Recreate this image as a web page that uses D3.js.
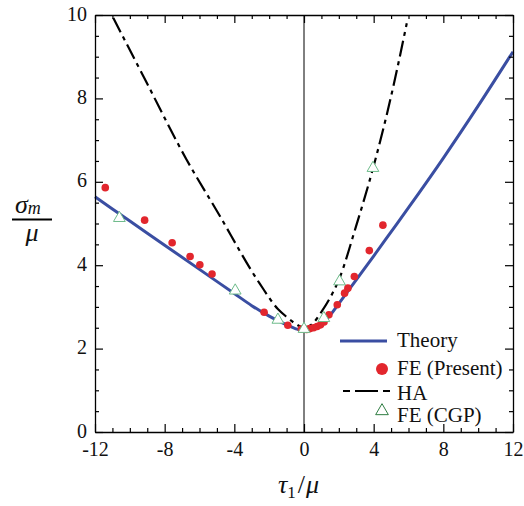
<!DOCTYPE html>
<html>
<head>
<meta charset="utf-8">
<script src="https://cdn.jsdelivr.net/npm/d3@7"></script>
<style>
  body { margin: 0; background: #fff; }
  svg { display: block; }
  svg text { font-family: "Liberation Serif", "DejaVu Serif", "Noto Serif", "Times New Roman", Times, serif; fill: #111; }
</style>
</head>
<body>
<div id="chart"></div>
<script>
// theory curve
const theoryX = [-12, -10, -8, -6, -4, -3, -2.3, -2, -1.5, -1, -0.5, 0, 0.5, 1, 1.5, 2, 3, 4, 5, 6, 8, 10, 12];
const theoryY = [5.64, 5.06, 4.48, 3.9, 3.32, 3.03, 2.85, 2.78, 2.67, 2.57, 2.48, 2.43, 2.47, 2.6, 2.8, 3.08, 3.65, 4.22, 4.8, 5.38, 6.57, 7.82, 9.12];

// HA curve
const haX = [-10.95, -9, -6.74, -5, -2.56, -1.5, -1, -0.5, 0, 0.5, 1, 1.5, 2, 3, 4, 5, 5.9];
const haY = [9.93, 8.35, 6.53, 5.3, 3.57, 2.95, 2.76, 2.6, 2.5, 2.6, 2.88, 3.22, 3.65, 4.95, 6.38, 8.05, 9.8];

// FE (Present)
const feX = [-11.41, -9.15, -7.57, -6.54, -5.98, -5.28, -2.29, -0.93, -0.15, 0.15, 0.35, 0.55, 0.75, 0.95, 1.15, 1.43, 1.91, 2.33, 2.52, 2.89, 3.75, 4.53];
const feY = [5.86, 5.08, 4.54, 4.21, 4.01, 3.79, 2.87, 2.56, 2.47, 2.46, 2.48, 2.5, 2.53, 2.57, 2.64, 2.81, 3.05, 3.33, 3.45, 3.73, 4.35, 4.96];

// FE (CGP)
const cgpX = [-10.6, -3.95, -1.5, 0, 1.14, 2.04, 3.96];
const cgpY = [5.13, 3.39, 2.69, 2.47, 2.73, 3.61, 6.33];

// ticks
const xTicks = [-12, -8, -4, 0, 4, 8, 12];
const xTickLabels = ["-12", "-8", "-4", "0", "4", "8", "12"];
const yTicks = [0, 2, 4, 6, 8, 10];
const yTickLabels = ["0", "2", "4", "6", "8", "10"];
const legendLabels = ["Theory", "FE (Present)", "HA", "FE (CGP)"];

const width = 524, height = 506;
const margin = {top: 15, right: 11, bottom: 74, left: 95};
const innerW = width - margin.left - margin.right;
const innerH = height - margin.top - margin.bottom;

const blue = "#3a4ea2", red = "#e2262d", green = "#6dbb8a", darkGreen = "#2f7d42";

const xScale = d3.scaleLinear().domain([-12, 12]).range([0, innerW]);
const yScale = d3.scaleLinear().domain([0, 10]).range([innerH, 0]);

const xMinor = d3.range(-12, 13, 1).filter(function(d) { return xTicks.indexOf(d) < 0; });
const yMinor = d3.range(0, 10.01, 0.5).filter(function(d) { return yTicks.indexOf(d) < 0; });

const svg = d3.select("#chart").append("svg")
    .attr("width", width)
    .attr("height", height);

const chartArea = svg.append("g")
    .attr("transform", "translate(" + margin.left + "," + margin.top + ")");

// draws one axis; inside ticks, optional labels
function drawAxis(axisFn, scale, values, size, labels, transform, pad) {
    const axis = axisFn(scale)
        .tickValues(values)
        .tickSizeInner(-size)
        .tickSizeOuter(0)
        .tickPadding(pad || 8)
        .tickFormat(function(d) { return labels ? labels[values.indexOf(d)] : ""; });
    const g = chartArea.append("g")
        .attr("class", "axis")
        .attr("transform", transform || null)
        .call(axis)
        .attr("font-family", null)
        .attr("font-size", 20);
    g.selectAll("line").attr("stroke", "#000").attr("stroke-width", 1.2);
    g.select(".domain").attr("stroke", "#000").attr("stroke-width", 1.3);
    g.selectAll("text").attr("fill", "#111");
    return g;
}

// zero line
chartArea.append("line")
    .attr("x1", xScale(0)).attr("x2", xScale(0))
    .attr("y1", 0).attr("y2", innerH)
    .attr("stroke", "#000")
    .attr("stroke-width", 1);

// curves
const line = d3.line()
    .x(function(d) { return xScale(d[0]); })
    .y(function(d) { return yScale(d[1]); })
    .curve(d3.curveMonotoneX);

chartArea.append("path")
    .datum(theoryX.map(function(x, i) { return [x, theoryY[i]]; }))
    .attr("d", line)
    .attr("fill", "none")
    .attr("stroke", blue)
    .attr("stroke-width", 3);

chartArea.append("path")
    .datum(haX.map(function(x, i) { return [x, haY[i]]; }))
    .attr("d", line)
    .attr("fill", "none")
    .attr("stroke", "#000")
    .attr("stroke-width", 2.2)
    .attr("stroke-dasharray", "16,5,4,5");

// FE (Present) dots
chartArea.selectAll(".dot")
    .data(feX.map(function(x, i) { return [x, feY[i]]; }))
    .enter().append("circle")
    .attr("class", "dot")
    .attr("r", 3.8)
    .attr("cx", function(d) { return xScale(d[0]); })
    .attr("cy", function(d) { return yScale(d[1]); })
    .attr("fill", red);

// FE (CGP) triangles
const tri = d3.symbol().type(d3.symbolTriangle).size(60);
chartArea.selectAll(".tri")
    .data(cgpX.map(function(x, i) { return [x, cgpY[i]]; }))
    .enter().append("path")
    .attr("class", "tri")
    .attr("d", tri)
    .attr("transform", function(d) { return "translate(" + xScale(d[0]) + "," + yScale(d[1]) + ")"; })
    .attr("fill", "#fff")
    .attr("stroke", green)
    .attr("stroke-width", 1);

// axes: labelled bottom/left, mirrored top/right
drawAxis(d3.axisBottom, xScale, xTicks, 8, xTickLabels, "translate(0," + innerH + ")", 10);
drawAxis(d3.axisBottom, xScale, xMinor, 4, null, "translate(0," + innerH + ")").select(".domain").remove();
drawAxis(d3.axisTop, xScale, xTicks, 8, null);
drawAxis(d3.axisTop, xScale, xMinor, 4, null).select(".domain").remove();
drawAxis(d3.axisLeft, yScale, yTicks, 8, yTickLabels)
    .selectAll("text").attr("dy", "0.25em");
drawAxis(d3.axisLeft, yScale, yMinor, 4, null).select(".domain").remove();
drawAxis(d3.axisRight, yScale, yTicks, 8, null, "translate(" + innerW + ",0)");
drawAxis(d3.axisRight, yScale, yMinor, 4, null, "translate(" + innerW + ",0)").select(".domain").remove();

// legend
const legend = svg.append("g").attr("class", "legend");
const textX = 397;
const rowY = [347, 375, 400, 422];

legend.append("line")
    .attr("x1", 340).attr("x2", 387)
    .attr("y1", 341).attr("y2", 341)
    .attr("stroke", blue).attr("stroke-width", 3);

legend.append("circle")
    .attr("cx", 382).attr("cy", 369).attr("r", 6)
    .attr("fill", red);

legend.append("line")
    .attr("x1", 343).attr("x2", 390)
    .attr("y1", 391).attr("y2", 391)
    .attr("stroke", "#000").attr("stroke-width", 2.2)
    .attr("stroke-dasharray", "7,5,23,5,7");

legend.append("path")
    .attr("d", d3.symbol().type(d3.symbolTriangle).size(70))
    .attr("transform", "translate(382,411)")
    .attr("fill", "none")
    .attr("stroke", darkGreen)
    .attr("stroke-width", 1);

legend.selectAll(".legend-label")
    .data(legendLabels)
    .enter().append("text")
    .attr("class", "legend-label")
    .attr("x", textX)
    .attr("y", function(d, i) { return rowY[i]; })
    .attr("font-size", 21)
    .text(function(d) { return d; });

// y axis title: sigma_m over mu
const yTitle = svg.append("g").attr("class", "y-title");
const sig = yTitle.append("text")
    .attr("x", 15).attr("y", 213)
    .attr("font-size", 26)
    .attr("font-style", "italic");
sig.append("tspan").text("σ");
sig.append("tspan").attr("font-size", 18).attr("dy", 1).text("m");

yTitle.append("line")
    .attr("x1", 12).attr("x2", 52)
    .attr("y1", 219.5).attr("y2", 219.5)
    .attr("stroke", "#000").attr("stroke-width", 2);

yTitle.append("text")
    .attr("x", 32).attr("y", 241)
    .attr("text-anchor", "middle")
    .attr("font-size", 26)
    .attr("font-style", "italic")
    .text("μ");

// x axis title: tau_1 / mu
const xTitle = svg.append("text")
    .attr("x", 278).attr("y", 493)
    .attr("font-size", 26);
xTitle.append("tspan").attr("font-style", "italic").text("τ");
xTitle.append("tspan").attr("font-size", 17).attr("dy", 5).text("1");
xTitle.append("tspan").attr("dy", -5).attr("dx", 2).text("/");
xTitle.append("tspan").attr("font-style", "italic").attr("dx", 1).text("μ");
</script>
</body>
</html>
